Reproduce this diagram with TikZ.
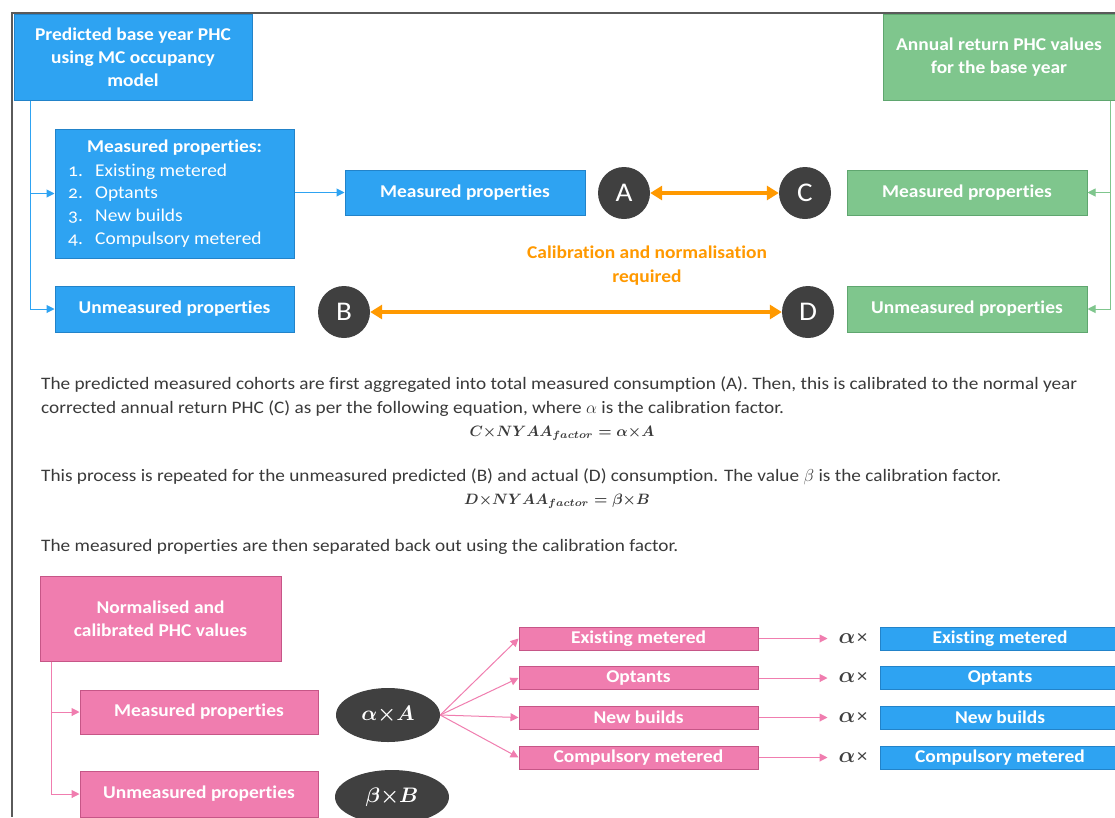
\documentclass[tikz,border=0pt]{standalone}
\usepackage{graphicx}
\usepackage{amsmath,bm}
\usepackage{fontspec}
\setmainfont{Carlito}[FakeStretch=1.08, Ligatures=NoCommon]
\newfontfamily\bodyfont{Carlito}[FakeStretch=1.1, Ligatures=NoCommon]
\newfontfamily\oldnum{Carlito}[FakeStretch=1.08, Numbers=OldStyle]
\usetikzlibrary{arrows.meta,shapes.geometric}
\definecolor{cblue}{HTML}{2EA3F2}
\definecolor{cblueD}{HTML}{2283C9}
\definecolor{cgreen}{HTML}{7FC68D}
\definecolor{cgreenD}{HTML}{5FA66F}
\definecolor{cpink}{HTML}{F07DAF}
\definecolor{cpinkD}{HTML}{C65687}
\definecolor{corange}{HTML}{FF9900}
\definecolor{cdark}{HTML}{404040}
\definecolor{ctext}{HTML}{3A3A3A}
\definecolor{cframe}{HTML}{5A5A5A}
\newcommand{\mscale}[2]{\scalebox{#1}{\boldmath$#2$}}
\tikzset{
  box/.style={rectangle, line width=1, text=white, font=\fontsize{18}{23}\selectfont\bfseries, align=center, inner sep=0},
  bluebox/.style={box, fill=cblue, draw=cblueD},
  greenbox/.style={box, fill=cgreen, draw=cgreenD},
  pinkbox/.style={box, fill=cpink, draw=cpinkD},
  smallpink/.style={pinkbox, minimum width=239, minimum height=23, font=\fontsize{18}{20}\selectfont\bfseries},
  smallblue/.style={bluebox, minimum width=240, minimum height=23, font=\fontsize{18}{20}\selectfont\bfseries},
  letter/.style={circle, fill=cdark, minimum size=52, inner sep=0, text=white, font=\fontsize{27}{27}\selectfont},
  oval/.style={ellipse, fill=cdark, inner sep=0, text=white, font=\fontsize{10}{12}\selectfont},
  conn/.style={line width=1, -{Triangle[length=8,width=8]}},
  bconn/.style={conn, draw=cblue},
  gconn/.style={conn, draw=cgreen},
  pconn/.style={conn, draw=cpink},
  oarrow/.style={draw=corange, line width=4, {Triangle[length=12,width=14]}-{Triangle[length=12,width=14]}},
  bodytext/.style={anchor=base west, inner sep=0, text=ctext, font=\bodyfont\fontsize{17.5}{22}\selectfont},
  eqtext/.style={anchor=base, inner sep=0, text=ctext, font=\fontsize{10}{12}\selectfont},
  amul/.style={inner xsep=11, inner ysep=0, text=cdark, font=\fontsize{10}{12}\selectfont},
  listitem/.style={anchor=base west, inner sep=0, text=white, font=\fontsize{18}{20}\selectfont},
  listnum/.style={anchor=base west, inner sep=0, text=white, font=\oldnum\fontsize{18}{20}\selectfont},
}
\begin{document}
\begin{tikzpicture}[x=1pt,y=-1pt]
\useasboundingbox (0,0) rectangle (1115,817);
\fill[white] (0,0) rectangle (1115,817);
% frame
\draw[cframe, line width=2] (1115,13) -- (12,13) -- (12,817);

% top blue part
\node[bluebox, minimum width=238, minimum height=86] (pb) at (133,57) {Predicted base year PHC\\using MC occupancy\\model};
\node[bluebox, minimum width=239, minimum height=129] (lm) at (174.5,193.5) {};
\node[box, anchor=base] (lmt) at (174.5,152) {Measured properties:};
\node[listnum] (n1) at (68,176) {1.};
\node[listitem] (t1) at (95,176) {Existing metered};
\node[listnum] (n2) at (68,198) {2.};
\node[listitem] (t2) at (95,198) {Optants};
\node[listnum] (n3) at (68,221) {3.};
\node[listitem] (t3) at (95,221) {New builds};
\node[listnum] (n4) at (68,244) {4.};
\node[listitem] (t4) at (95,244) {Compulsory metered};
\node[bluebox, minimum width=239, minimum height=46] (um) at (174.5,309) {Unmeasured properties};
\node[bluebox, minimum width=240, minimum height=45] (mp) at (465,192.5) {Measured properties};

\draw[bconn] ([xshift=17]pb.south west) |- (lm.west);
\draw[bconn] ([xshift=17]pb.south west) |- (um.west);
\draw[bconn] (lm.east |- mp.west) -- (mp.west);

% circles
\node[letter] (A) at (624,193) {A};
\node[letter] (C) at (805,193) {C};
\node[letter] (B) at (344,312) {B};
\node[letter] (D) at (808,312) {D};
\draw[oarrow] (A) -- (C);
\draw[oarrow] (B) -- (D);
\node[text=corange, font=\fontsize{18}{24}\selectfont\bfseries, align=center] (cal) at (647,266) {Calibration and normalisation\\required};

% green part
\node[greenbox, minimum width=232, minimum height=86] (ar) at (999,57) {Annual return PHC values\\for the base year};
\node[greenbox, minimum width=240, minimum height=45] (gm) at (967,192.5) {Measured properties};
\node[greenbox, minimum width=240, minimum height=46] (gu) at (967,309) {Unmeasured properties};
\draw[gconn] ([xshift=-5]ar.south east) |- (gm.east);
\draw[gconn] ([xshift=-5]ar.south east) |- (gu.east);

% body text
\node[bodytext] (p1) at (41,389) {The predicted measured cohorts are first aggregated into total measured consumption (A). Then, this is calibrated to the normal year};
\node[bodytext] (p2) at (41,413) {corrected annual return PHC (C) as per the following equation, where $\alpha$ is the calibration factor.};
\node[eqtext] (e1) at (562,436) {\mscale{1.5}{C{\times}NYAA_{factor}=\alpha{\times}A}};
\node[bodytext] (p3) at (41,481) {This process is repeated for the unmeasured predicted (B) and actual (D) consumption. The value $\beta$ is the calibration factor.};
\node[eqtext] (e2) at (557,504) {\mscale{1.5}{D{\times}NYAA_{factor}=\beta{\times}B}};
\node[bodytext] (p4) at (41,551) {The measured properties are then separated back out using the calibration factor.};

% bottom pink part
\node[pinkbox, minimum width=241, minimum height=85] (np) at (160.5,618.5) {Normalised and\\calibrated PHC values};
\node[pinkbox, minimum width=238, minimum height=44] (pm) at (199,712) {Measured properties};
\node[pinkbox, minimum width=238, minimum height=46] (pu) at (199,794) {Unmeasured properties};
\draw[pconn] ([xshift=12]np.south west) |- (pm.west);
\draw[pconn] ([xshift=12]np.south west) |- (pu.west);

\node[oval, minimum width=104, minimum height=54] (aA) at (388,715) {\mscale{2.1}{\alpha{\times}A}};
\node[oval, minimum width=114, minimum height=54] (bB) at (392,797) {\mscale{2.1}{\beta{\times}B}};

\node[smallpink] (s1) at (638.5,638.5) {Existing metered};
\node[smallpink] (s2) at (638.5,678) {Optants};
\node[smallpink] (s3) at (638.5,717.5) {New builds};
\node[smallpink] (s4) at (638.5,757.5) {Compulsory metered};
\foreach \s in {s1,s2,s3,s4} \draw[pconn] (aA.east) -- (\s.west);

\node[amul] (m1) at (853,638.5) {\mscale{2.2}{\alpha}\,{\fontsize{19}{19}\selectfont ×}};
\node[amul] (m2) at (853,678) {\mscale{2.2}{\alpha}\,{\fontsize{19}{19}\selectfont ×}};
\node[amul] (m3) at (853,717.5) {\mscale{2.2}{\alpha}\,{\fontsize{19}{19}\selectfont ×}};
\node[amul] (m4) at (853,757.5) {\mscale{2.2}{\alpha}\,{\fontsize{19}{19}\selectfont ×}};
\draw[pconn] (s1.east) -- (m1.west);
\draw[pconn] (s2.east) -- (m2.west);
\draw[pconn] (s3.east) -- (m3.west);
\draw[pconn] (s4.east) -- (m4.west);

\node[smallblue] (b1) at (1000,638.5) {Existing metered};
\node[smallblue] (b2) at (1000,678) {Optants};
\node[smallblue] (b3) at (1000,717.5) {New builds};
\node[smallblue] (b4) at (1000,757.5) {Compulsory metered};
\end{tikzpicture}
\end{document}
